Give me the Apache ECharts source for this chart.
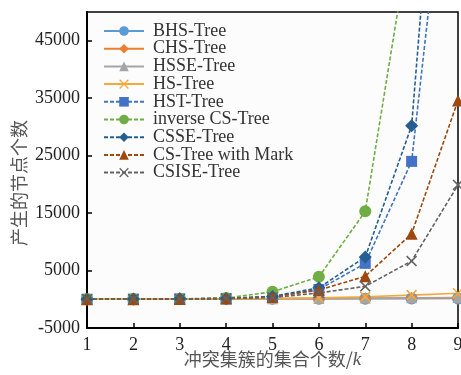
<!DOCTYPE html>
<html>
<head>
<meta charset="utf-8">
<script src="https://cdn.jsdelivr.net/npm/echarts@6/dist/echarts.min.js"></script>
<style>
  html, body { margin: 0; padding: 0; background: #fff; }
  #chart { width: 461px; height: 375px; }
</style>
</head>
<body>
<div id="chart"></div>
<script>
// Number of conflict-set clusters k
const kValues = [1, 2, 3, 4, 5, 6, 7, 8, 9];

// Generated node counts per algorithm
const bhsTree      = [10, 20, 40, 60, 80, 100, 110, 120, 130];
const chsTree      = [10, 20, 40, 60, 90, 120, 150, 180, 200];
const hsseTree     = [10, 20, 40, 60, 100, 150, 200, 250, 300];
const hsTree       = [10, 25, 50, 90, 150, 250, 430, 730, 1050];
const hstTree      = [10, 30, 70, 150, 450, 1700, 6250, 24000, 96000];
const inverseCS    = [10, 30, 80, 200, 1300, 3900, 15300, 65000, 260000];
const csseTree     = [10, 30, 70, 150, 500, 2000, 7350, 30200, 130000];
const csTreeMark   = [10, 25, 60, 130, 400, 1600, 4000, 11400, 34600];
const csiseTree    = [10, 25, 50, 110, 300, 1100, 2250, 6650, 19900];

const yTickValues = [-5000, 5000, 15000, 25000, 35000, 45000];

const X_SYMBOL = 'path://M1,0 L5,4 L9,0 L10,1 L6,5 L10,9 L9,10 L5,6 L1,10 L0,9 L4,5 L0,1 Z';

const serif = '"Liberation Serif", "DejaVu Serif", serif';

function mk(name, data, color, symbol, dashed, size) {
  return {
    name: name,
    type: 'line',
    data: kValues.map((k, i) => [k, data[i]]),
    symbol: symbol,
    symbolSize: size || 10,
    clip: true,
    lineStyle: { color: color, width: 1.6, type: dashed ? [4, 2] : 'solid' },
    itemStyle: { color: color },
    emphasis: { disabled: true }
  };
}

const series = [
  mk('BHS-Tree', bhsTree, '#5b9bd5', 'circle', false, 12),
  mk('CHS-Tree', chsTree, '#ed7d31', 'diamond', false, 12),
  mk('HSSE-Tree', hsseTree, '#a5a5a5', 'triangle', false, 11),
  mk('HS-Tree', hsTree, '#f4a93a', X_SYMBOL, false, 11),
  mk('HST-Tree', hstTree, '#4472c4', 'rect', true, 11),
  mk('inverse CS-Tree', inverseCS, '#70ad47', 'circle', true, 12),
  mk('CSSE-Tree', csseTree, '#255e91', 'diamond', true, 13),
  mk('CS-Tree with Mark', csTreeMark, '#9e480e', 'triangle', true, 12),
  mk('CSISE-Tree', csiseTree, '#636363', X_SYMBOL, true, 11)
];

const chart = echarts.init(document.getElementById('chart'), null, { renderer: 'canvas' });
chart.setOption({
  animation: false,
  backgroundColor: '#ffffff',
  grid: {
    left: 87, right: 3, top: 12, bottom: 47,
    containLabel: false, outerBoundsMode: 'none',
    show: true, borderColor: '#000', borderWidth: 1.5, backgroundColor: '#fcfcfc'
  },
  legend: {
    orient: 'vertical',
    left: 98, top: 17,
    itemWidth: 40, itemHeight: 12, itemGap: -0.3,
    textStyle: { fontFamily: serif, fontSize: 18, color: '#333', lineHeight: 17, padding: [0, 0, 0, 4] },
    data: series.map(s => s.name)
  },
  xAxis: {
    type: 'value', min: 1, max: 9, interval: 1,
    axisLine: { onZero: false, lineStyle: { color: '#000', width: 2 } },
    axisTick: { inside: true, length: 5, lineStyle: { color: '#000', width: 1.5 } },
    axisLabel: { fontFamily: serif, fontSize: 18, color: '#222', margin: 8, showMaxLabel: true },
    splitLine: { show: false },
    name: '{n|冲突集簇的集合个数/}{k|k}',
    nameLocation: 'middle', nameGap: 22, nameMoveOverlap: false,
    nameTextStyle: {
      rich: {
        n: { fontFamily: '"Noto Sans CJK SC", sans-serif', fontSize: 18, color: '#555' },
        k: { fontFamily: serif, fontSize: 19, fontStyle: 'italic', color: '#555' }
      }
    }
  },
  yAxis: {
    type: 'value', min: -5000, max: 50000,
    axisLine: { show: true, onZero: false, lineStyle: { color: '#000', width: 2 } },
    axisTick: { inside: true, length: 5, customValues: yTickValues, lineStyle: { color: '#000', width: 1.5 } },
    axisLabel: {
      fontFamily: serif, fontSize: 18, color: '#222', margin: 7,
      customValues: yTickValues,
      formatter: v => String(v)
    },
    splitLine: { show: false },
    name: '产生的节点个数',
    nameLocation: 'middle', nameGap: 59, nameMoveOverlap: false,
    nameTextStyle: {
      fontFamily: '"Noto Sans CJK SC", sans-serif', fontSize: 18, color: '#555',
      padding: [0, 26, 0, 0]
    }
  },
  series: series
});
</script>
</body>
</html>
